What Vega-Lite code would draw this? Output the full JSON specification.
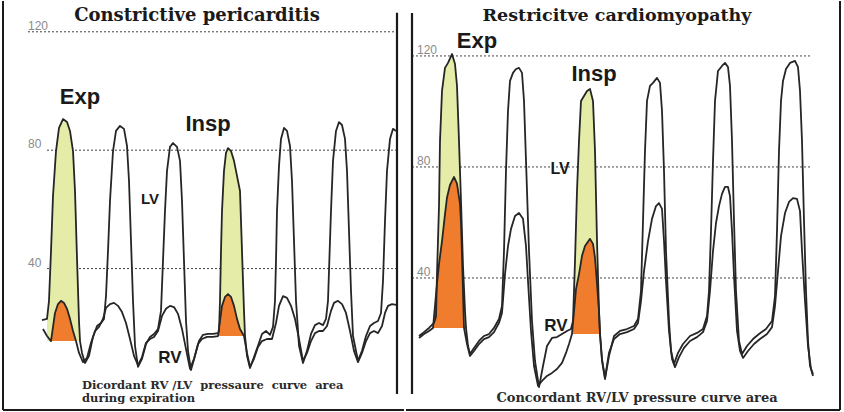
{
"$schema": "https://vega.github.io/schema/vega-lite/v6.json",
"background": "white",
"padding": 0,
"autosize": {"type": "pad"},
"spacing": 0,
"config": {"view": {"stroke": null}},
"datasets": {
"grid": [{"p": 120}, {"p": 80}, {"p": 40}],
"cp": [
{"s":"LV","t":42,"p":22.6},{"s":"LV","t":47,"p":23.0,"sh":"E"},{"s":"LV","t":49,"p":29.1,"sh":"E"},{"s":"LV","t":51,"p":45.9,"sh":"E"},{"s":"LV","t":53,"p":64.5,"sh":"E"},{"s":"LV","t":56,"p":79.7,"sh":"E"},{"s":"LV","t":59,"p":87.5,"sh":"E"},{"s":"LV","t":63,"p":90.5,"sh":"E"},{"s":"LV","t":67,"p":89.5,"sh":"E"},{"s":"LV","t":70,"p":86.5,"sh":"E"},{"s":"LV","t":73,"p":79.7,"sh":"E"},{"s":"LV","t":75,"p":66.2,"sh":"E"},{"s":"LV","t":77,"p":43.6,"sh":"E"},{"s":"LV","t":79,"p":22.3,"sh":"E"},{"s":"LV","t":80,"p":15.5,"sh":"E"},
{"s":"LV","t":82,"p":11.5},{"s":"LV","t":85,"p":8.1},{"s":"LV","t":89,"p":10.5},{"s":"LV","t":93,"p":16.9},{"s":"LV","t":97,"p":20.6},{"s":"LV","t":101,"p":21.6},{"s":"LV","t":104,"p":23.0},{"s":"LV","t":106,"p":30.7},{"s":"LV","t":108,"p":45.9},{"s":"LV","t":110,"p":62.8},{"s":"LV","t":113,"p":79.7},{"s":"LV","t":116,"p":86.5},{"s":"LV","t":120,"p":88.2},{"s":"LV","t":124,"p":87.2},{"s":"LV","t":127,"p":81.4},{"s":"LV","t":129,"p":69.6},{"s":"LV","t":131,"p":49.3},{"s":"LV","t":133,"p":29.1},{"s":"LV","t":135,"p":13.9},{"s":"LV","t":138,"p":6.8},
{"s":"LV","t":142,"p":9.5},{"s":"LV","t":146,"p":14.5},{"s":"LV","t":150,"p":16.9},{"s":"LV","t":154,"p":17.9},{"s":"LV","t":158,"p":19.6},{"s":"LV","t":161,"p":25.7},{"s":"LV","t":163,"p":42.6},{"s":"LV","t":165,"p":59.5},{"s":"LV","t":167,"p":73.0},{"s":"LV","t":170,"p":81.1},{"s":"LV","t":173,"p":82.4},{"s":"LV","t":177,"p":81.1},{"s":"LV","t":180,"p":76.4},{"s":"LV","t":182,"p":62.8},{"s":"LV","t":184,"p":42.6},{"s":"LV","t":186,"p":22.3},{"s":"LV","t":188,"p":12.2},{"s":"LV","t":191,"p":5.7},
{"s":"LV","t":195,"p":10.5},{"s":"LV","t":199,"p":15.5},{"s":"LV","t":203,"p":17.6},{"s":"LV","t":208,"p":17.9},{"s":"LV","t":213,"p":17.9},{"s":"LV","t":218,"p":18.2},{"s":"LV","t":219,"p":18.9,"sh":"I"},{"s":"LV","t":220,"p":29.1,"sh":"I"},{"s":"LV","t":221,"p":45.9,"sh":"I"},{"s":"LV","t":222,"p":59.5,"sh":"I"},{"s":"LV","t":224,"p":73.0,"sh":"I"},{"s":"LV","t":226,"p":79.1,"sh":"I"},{"s":"LV","t":228,"p":80.7,"sh":"I"},{"s":"LV","t":231,"p":79.7,"sh":"I"},{"s":"LV","t":234,"p":76.4,"sh":"I"},{"s":"LV","t":237,"p":71.3,"sh":"I"},{"s":"LV","t":240,"p":66.2,"sh":"I"},{"s":"LV","t":242,"p":45.9,"sh":"I"},{"s":"LV","t":244,"p":25.7,"sh":"I"},{"s":"LV","t":245,"p":17.2,"sh":"I"},
{"s":"LV","t":247,"p":10.5},{"s":"LV","t":250,"p":6.4},{"s":"LV","t":254,"p":10.1},{"s":"LV","t":258,"p":13.9},{"s":"LV","t":262,"p":17.9},{"s":"LV","t":266,"p":18.9},{"s":"LV","t":270,"p":17.6},{"s":"LV","t":273,"p":20.3},{"s":"LV","t":275,"p":29.1},{"s":"LV","t":276,"p":42.6},{"s":"LV","t":277,"p":59.5},{"s":"LV","t":279,"p":74.7},{"s":"LV","t":281,"p":83.8},{"s":"LV","t":284,"p":87.5},{"s":"LV","t":287,"p":86.5},{"s":"LV","t":290,"p":81.4},{"s":"LV","t":292,"p":69.6},{"s":"LV","t":294,"p":49.3},{"s":"LV","t":296,"p":29.1},{"s":"LV","t":299,"p":13.9},{"s":"LV","t":303,"p":8.1},
{"s":"LV","t":307,"p":12.2},{"s":"LV","t":311,"p":17.9},{"s":"LV","t":315,"p":20.9},{"s":"LV","t":319,"p":21.6},{"s":"LV","t":323,"p":20.9},{"s":"LV","t":326,"p":23.0},{"s":"LV","t":328,"p":29.1},{"s":"LV","t":329,"p":39.2},{"s":"LV","t":331,"p":59.5},{"s":"LV","t":333,"p":76.4},{"s":"LV","t":336,"p":86.5},{"s":"LV","t":339,"p":89.5},{"s":"LV","t":342,"p":88.5},{"s":"LV","t":345,"p":83.8},{"s":"LV","t":347,"p":73.0},{"s":"LV","t":349,"p":52.7},{"s":"LV","t":351,"p":32.4},{"s":"LV","t":353,"p":17.2},{"s":"LV","t":358,"p":8.8},
{"s":"LV","t":362,"p":12.2},{"s":"LV","t":366,"p":17.2},{"s":"LV","t":370,"p":20.6},{"s":"LV","t":374,"p":21.6},{"s":"LV","t":378,"p":22.3},{"s":"LV","t":381,"p":25.0},{"s":"LV","t":383,"p":35.8},{"s":"LV","t":385,"p":56.1},{"s":"LV","t":387,"p":73.0},{"s":"LV","t":390,"p":83.8},{"s":"LV","t":393,"p":87.2},{"s":"LV","t":396,"p":86.5},
{"s":"RV","t":43,"p":19.6},{"s":"RV","t":47,"p":17.2},{"s":"RV","t":51,"p":15.5,"sh":"E"},{"s":"RV","t":53,"p":20.3,"sh":"E"},{"s":"RV","t":55,"p":25.0,"sh":"E"},{"s":"RV","t":58,"p":28.0,"sh":"E"},{"s":"RV","t":61,"p":29.1,"sh":"E"},{"s":"RV","t":64,"p":28.4,"sh":"E"},{"s":"RV","t":67,"p":26.4,"sh":"E"},{"s":"RV","t":70,"p":23.0,"sh":"E"},{"s":"RV","t":73,"p":18.9,"sh":"E"},{"s":"RV","t":76,"p":15.5,"sh":"E"},
{"s":"RV","t":79,"p":11.5},{"s":"RV","t":83,"p":8.4},{"s":"RV","t":87,"p":9.8},{"s":"RV","t":91,"p":14.9},{"s":"RV","t":95,"p":18.9},{"s":"RV","t":99,"p":20.3},{"s":"RV","t":103,"p":23.0},{"s":"RV","t":106,"p":26.7},{"s":"RV","t":110,"p":28.0},{"s":"RV","t":114,"p":28.4},{"s":"RV","t":118,"p":27.4},{"s":"RV","t":122,"p":25.3},{"s":"RV","t":126,"p":21.6},{"s":"RV","t":130,"p":16.2},{"s":"RV","t":134,"p":10.5},{"s":"RV","t":138,"p":7.4},
{"s":"RV","t":142,"p":10.1},{"s":"RV","t":146,"p":14.9},{"s":"RV","t":150,"p":16.2},{"s":"RV","t":154,"p":16.9},{"s":"RV","t":158,"p":18.9},{"s":"RV","t":162,"p":24.0},{"s":"RV","t":166,"p":26.4},{"s":"RV","t":170,"p":27.4},{"s":"RV","t":174,"p":27.0},{"s":"RV","t":178,"p":24.7},{"s":"RV","t":182,"p":19.6},{"s":"RV","t":186,"p":12.8},{"s":"RV","t":190,"p":6.1},
{"s":"RV","t":194,"p":9.5},{"s":"RV","t":198,"p":14.5},{"s":"RV","t":202,"p":16.2},{"s":"RV","t":207,"p":16.9},{"s":"RV","t":213,"p":16.9},{"s":"RV","t":218,"p":17.2,"sh":"I"},{"s":"RV","t":220,"p":22.3,"sh":"I"},{"s":"RV","t":222,"p":27.4,"sh":"I"},{"s":"RV","t":225,"p":30.4,"sh":"I"},{"s":"RV","t":228,"p":31.4,"sh":"I"},{"s":"RV","t":231,"p":30.4,"sh":"I"},{"s":"RV","t":234,"p":27.4,"sh":"I"},{"s":"RV","t":237,"p":23.0,"sh":"I"},{"s":"RV","t":240,"p":19.6,"sh":"I"},{"s":"RV","t":244,"p":17.2,"sh":"I"},
{"s":"RV","t":247,"p":11.5},{"s":"RV","t":250,"p":6.8},{"s":"RV","t":254,"p":9.5},{"s":"RV","t":258,"p":13.5},{"s":"RV","t":262,"p":15.5},{"s":"RV","t":267,"p":16.2},{"s":"RV","t":272,"p":16.2},{"s":"RV","t":276,"p":21.6},{"s":"RV","t":279,"p":27.4},{"s":"RV","t":283,"p":30.7},{"s":"RV","t":287,"p":30.1},{"s":"RV","t":291,"p":27.4},{"s":"RV","t":295,"p":23.0},{"s":"RV","t":299,"p":16.2},{"s":"RV","t":303,"p":8.8},
{"s":"RV","t":307,"p":11.5},{"s":"RV","t":311,"p":15.5},{"s":"RV","t":315,"p":18.2},{"s":"RV","t":319,"p":18.9},{"s":"RV","t":323,"p":18.9},{"s":"RV","t":327,"p":20.6},{"s":"RV","t":331,"p":25.7},{"s":"RV","t":334,"p":28.4},{"s":"RV","t":338,"p":29.1},{"s":"RV","t":342,"p":28.0},{"s":"RV","t":346,"p":25.0},{"s":"RV","t":350,"p":18.9},{"s":"RV","t":354,"p":12.2},{"s":"RV","t":358,"p":8.4},
{"s":"RV","t":362,"p":11.5},{"s":"RV","t":366,"p":15.5},{"s":"RV","t":370,"p":18.2},{"s":"RV","t":374,"p":18.9},{"s":"RV","t":378,"p":18.2},{"s":"RV","t":382,"p":20.6},{"s":"RV","t":385,"p":25.0},{"s":"RV","t":388,"p":27.4},{"s":"RV","t":392,"p":28.0},{"s":"RV","t":396,"p":27.7}
],
"rc": [
{"s":"LV","t":13,"p":19.1},{"s":"LV","t":18,"p":20.5},{"s":"LV","t":23,"p":22.0},{"s":"LV","t":28,"p":23.8,"sh":"E"},{"s":"LV","t":30,"p":26.0,"sh":"E"},{"s":"LV","t":31,"p":41.4,"sh":"E"},{"s":"LV","t":33,"p":65.9,"sh":"E"},{"s":"LV","t":34,"p":89.4,"sh":"E"},{"s":"LV","t":36,"p":107.4,"sh":"E"},{"s":"LV","t":39,"p":115.7,"sh":"E"},{"s":"LV","t":42,"p":117.5,"sh":"E"},{"s":"LV","t":46,"p":120.7,"sh":"E"},{"s":"LV","t":49,"p":117.1,"sh":"E"},{"s":"LV","t":51,"p":109.2,"sh":"E"},{"s":"LV","t":53,"p":89.4,"sh":"E"},{"s":"LV","t":55,"p":67.7,"sh":"E"},{"s":"LV","t":57,"p":44.3,"sh":"E"},{"s":"LV","t":59,"p":28.1,"sh":"E"},{"s":"LV","t":60,"p":22.0,"sh":"E"},
{"s":"LV","t":62,"p":15.5},{"s":"LV","t":64,"p":12.6},{"s":"LV","t":68,"p":14.8},{"s":"LV","t":73,"p":17.3},{"s":"LV","t":78,"p":19.1},{"s":"LV","t":83,"p":19.8},{"s":"LV","t":88,"p":22.0},{"s":"LV","t":93,"p":25.2},{"s":"LV","t":96,"p":29.9},{"s":"LV","t":98,"p":49.7},{"s":"LV","t":100,"p":78.6},{"s":"LV","t":102,"p":100.2},{"s":"LV","t":104,"p":111.0},{"s":"LV","t":107,"p":113.9},{"s":"LV","t":110,"p":115.3},{"s":"LV","t":113,"p":115.7},{"s":"LV","t":116,"p":113.9},{"s":"LV","t":118,"p":103.8},{"s":"LV","t":120,"p":82.2},{"s":"LV","t":123,"p":49.7},{"s":"LV","t":126,"p":24.5},{"s":"LV","t":129,"p":10.1},{"s":"LV","t":133,"p":0.7},
{"s":"LV","t":137,"p":8.3},{"s":"LV","t":141,"p":15.5},{"s":"LV","t":146,"p":18.4},{"s":"LV","t":151,"p":18.7},{"s":"LV","t":156,"p":19.8},{"s":"LV","t":161,"p":20.9},{"s":"LV","t":165,"p":21.6,"sh":"I"},{"s":"LV","t":167,"p":24.5,"sh":"I"},{"s":"LV","t":169,"p":46.1,"sh":"I"},{"s":"LV","t":171,"p":71.4,"sh":"I"},{"s":"LV","t":173,"p":89.4,"sh":"I"},{"s":"LV","t":175,"p":103.8,"sh":"I"},{"s":"LV","t":178,"p":105.6,"sh":"I"},{"s":"LV","t":181,"p":107.4,"sh":"I"},{"s":"LV","t":184,"p":108.1,"sh":"I"},{"s":"LV","t":187,"p":103.8,"sh":"I"},{"s":"LV","t":189,"p":85.8,"sh":"I"},{"s":"LV","t":191,"p":53.3,"sh":"I"},{"s":"LV","t":193,"p":28.1,"sh":"I"},{"s":"LV","t":194,"p":19.8,"sh":"I"},
{"s":"LV","t":196,"p":10.1},{"s":"LV","t":199,"p":3.6},{"s":"LV","t":203,"p":11.9},{"s":"LV","t":208,"p":19.1},{"s":"LV","t":214,"p":20.9},{"s":"LV","t":221,"p":21.6},{"s":"LV","t":228,"p":22.7},{"s":"LV","t":232,"p":25.2},{"s":"LV","t":235,"p":35.3},{"s":"LV","t":237,"p":60.5},{"s":"LV","t":239,"p":85.8},{"s":"LV","t":241,"p":103.8},{"s":"LV","t":244,"p":109.2},{"s":"LV","t":247,"p":110.3},{"s":"LV","t":251,"p":112.1},{"s":"LV","t":254,"p":110.3},{"s":"LV","t":256,"p":100.2},{"s":"LV","t":258,"p":78.6},{"s":"LV","t":260,"p":49.7},{"s":"LV","t":263,"p":24.5},{"s":"LV","t":265,"p":13.7},{"s":"LV","t":268,"p":9.0},
{"s":"LV","t":272,"p":13.0},{"s":"LV","t":277,"p":16.2},{"s":"LV","t":284,"p":19.1},{"s":"LV","t":291,"p":20.2},{"s":"LV","t":297,"p":21.6},{"s":"LV","t":301,"p":26.3},{"s":"LV","t":303,"p":35.3},{"s":"LV","t":305,"p":56.9},{"s":"LV","t":307,"p":82.2},{"s":"LV","t":309,"p":103.8},{"s":"LV","t":312,"p":114.6},{"s":"LV","t":316,"p":116.4},{"s":"LV","t":319,"p":117.5},{"s":"LV","t":322,"p":116.0},{"s":"LV","t":324,"p":109.2},{"s":"LV","t":326,"p":89.4},{"s":"LV","t":328,"p":60.5},{"s":"LV","t":330,"p":35.3},{"s":"LV","t":333,"p":17.3},{"s":"LV","t":336,"p":12.6},
{"s":"LV","t":341,"p":15.5},{"s":"LV","t":347,"p":18.0},{"s":"LV","t":353,"p":19.8},{"s":"LV","t":360,"p":21.6},{"s":"LV","t":366,"p":24.5},{"s":"LV","t":369,"p":33.5},{"s":"LV","t":371,"p":56.9},{"s":"LV","t":373,"p":85.8},{"s":"LV","t":375,"p":103.8},{"s":"LV","t":377,"p":111.0},{"s":"LV","t":380,"p":115.3},{"s":"LV","t":384,"p":117.5},{"s":"LV","t":389,"p":118.2},{"s":"LV","t":392,"p":116.0},{"s":"LV","t":394,"p":107.4},{"s":"LV","t":396,"p":89.4},{"s":"LV","t":398,"p":60.5},{"s":"LV","t":400,"p":35.3},{"s":"LV","t":402,"p":17.3},{"s":"LV","t":404,"p":8.3},{"s":"LV","t":407,"p":5.4},
{"s":"RV","t":13,"p":18.4},{"s":"RV","t":18,"p":19.8},{"s":"RV","t":23,"p":20.9},{"s":"RV","t":27,"p":22.0,"sh":"E"},{"s":"RV","t":29,"p":30.0,"sh":"E"},{"s":"RV","t":31,"p":38.0,"sh":"E"},{"s":"RV","t":33,"p":45.0,"sh":"E"},{"s":"RV","t":36,"p":53.3,"sh":"E"},{"s":"RV","t":39,"p":63.0,"sh":"E"},{"s":"RV","t":41,"p":69.0,"sh":"E"},{"s":"RV","t":44,"p":73.5,"sh":"E"},{"s":"RV","t":48,"p":76.4,"sh":"E"},{"s":"RV","t":51,"p":74.0,"sh":"E"},{"s":"RV","t":54,"p":66.7,"sh":"E"},{"s":"RV","t":55,"p":60.0,"sh":"E"},{"s":"RV","t":56,"p":48.0,"sh":"E"},{"s":"RV","t":57,"p":35.0,"sh":"E"},{"s":"RV","t":58,"p":22.0,"sh":"E"},
{"s":"RV","t":61,"p":16.2},{"s":"RV","t":64,"p":11.9},{"s":"RV","t":68,"p":13.7},{"s":"RV","t":73,"p":16.2},{"s":"RV","t":78,"p":18.0},{"s":"RV","t":83,"p":18.7},{"s":"RV","t":88,"p":20.5},{"s":"RV","t":93,"p":23.8},{"s":"RV","t":96,"p":27.4},{"s":"RV","t":99,"p":41.4},{"s":"RV","t":102,"p":51.5},{"s":"RV","t":105,"p":57.7},{"s":"RV","t":109,"p":62.3},{"s":"RV","t":113,"p":63.4},{"s":"RV","t":117,"p":61.3},{"s":"RV","t":120,"p":51.5},{"s":"RV","t":122,"p":38.9},{"s":"RV","t":125,"p":20.9},{"s":"RV","t":128,"p":8.3},{"s":"RV","t":132,"p":1.1},
{"s":"RV","t":136,"p":2.9},{"s":"RV","t":141,"p":4.7},{"s":"RV","t":146,"p":5.8},{"s":"RV","t":151,"p":7.2},{"s":"RV","t":156,"p":9.4},{"s":"RV","t":160,"p":13.0},{"s":"RV","t":163,"p":16.2},{"s":"RV","t":166,"p":19.8,"sh":"I"},{"s":"RV","t":168,"p":28.0,"sh":"I"},{"s":"RV","t":170,"p":36.0,"sh":"I"},{"s":"RV","t":173,"p":41.4,"sh":"I"},{"s":"RV","t":176,"p":48.0,"sh":"I"},{"s":"RV","t":179,"p":51.5,"sh":"I"},{"s":"RV","t":184,"p":54.1,"sh":"I"},{"s":"RV","t":187,"p":52.3,"sh":"I"},{"s":"RV","t":189,"p":47.2,"sh":"I"},{"s":"RV","t":191,"p":38.0,"sh":"I"},{"s":"RV","t":193,"p":28.0,"sh":"I"},{"s":"RV","t":194,"p":19.8,"sh":"I"},
{"s":"RV","t":196,"p":10.8},{"s":"RV","t":199,"p":4.0},{"s":"RV","t":203,"p":13.0},{"s":"RV","t":208,"p":18.0},{"s":"RV","t":214,"p":19.8},{"s":"RV","t":221,"p":20.5},{"s":"RV","t":228,"p":21.6},{"s":"RV","t":232,"p":23.8},{"s":"RV","t":235,"p":31.7},{"s":"RV","t":238,"p":42.5},{"s":"RV","t":242,"p":53.3},{"s":"RV","t":246,"p":61.3},{"s":"RV","t":250,"p":65.9},{"s":"RV","t":253,"p":67.0},{"s":"RV","t":256,"p":64.9},{"s":"RV","t":258,"p":53.3},{"s":"RV","t":260,"p":38.9},{"s":"RV","t":263,"p":20.9},{"s":"RV","t":266,"p":10.8},{"s":"RV","t":269,"p":7.9},
{"s":"RV","t":273,"p":11.5},{"s":"RV","t":278,"p":14.8},{"s":"RV","t":284,"p":17.3},{"s":"RV","t":291,"p":18.7},{"s":"RV","t":297,"p":20.5},{"s":"RV","t":301,"p":24.5},{"s":"RV","t":304,"p":35.3},{"s":"RV","t":307,"p":49.7},{"s":"RV","t":310,"p":59.8},{"s":"RV","t":313,"p":65.9},{"s":"RV","t":316,"p":70.3},{"s":"RV","t":319,"p":72.8},{"s":"RV","t":322,"p":72.8},{"s":"RV","t":324,"p":69.5},{"s":"RV","t":326,"p":56.9},{"s":"RV","t":328,"p":40.7},{"s":"RV","t":331,"p":20.9},{"s":"RV","t":334,"p":13.7},{"s":"RV","t":337,"p":11.2},
{"s":"RV","t":342,"p":13.7},{"s":"RV","t":348,"p":16.2},{"s":"RV","t":354,"p":18.0},{"s":"RV","t":361,"p":19.8},{"s":"RV","t":366,"p":22.3},{"s":"RV","t":369,"p":29.9},{"s":"RV","t":372,"p":42.5},{"s":"RV","t":375,"p":55.1},{"s":"RV","t":379,"p":63.4},{"s":"RV","t":383,"p":67.4},{"s":"RV","t":387,"p":68.8},{"s":"RV","t":391,"p":68.5},{"s":"RV","t":394,"p":64.1},{"s":"RV","t":396,"p":49.7},{"s":"RV","t":399,"p":31.7},{"s":"RV","t":402,"p":15.5},{"s":"RV","t":405,"p":7.2},{"s":"RV","t":407,"p":4.7}
]
},
"hconcat": [
{
"width": 404, "height": 412,
"layer": [
{"data": {"name": "grid"}, "transform": [{"filter": "datum.p == 120"}], "mark": {"type": "rule", "color": "#444", "strokeDash": [2, 2], "strokeWidth": 1},
 "encoding": {"x": {"datum": 28, "type": "quantitative", "scale": {"domain": [0, 404], "nice": false, "zero": false}, "axis": null}, "x2": {"datum": 397}, "y": {"field": "p", "type": "quantitative", "scale": {"domain": [-8.8, 130.4], "nice": false, "zero": false}, "axis": null}}},
{"data": {"name": "grid"}, "transform": [{"filter": "datum.p != 120"}], "mark": {"type": "rule", "color": "#444", "strokeDash": [2, 2], "strokeWidth": 1},
 "encoding": {"x": {"datum": 47, "type": "quantitative", "scale": {"domain": [0, 404], "nice": false, "zero": false}, "axis": null}, "x2": {"datum": 397}, "y": {"field": "p", "type": "quantitative", "scale": {"domain": [-8.8, 130.4], "nice": false, "zero": false}, "axis": null}}},
{"data": {"name": "grid"}, "mark": {"type": "text", "align": "left", "baseline": "alphabetic", "dy": -2, "font": "Liberation Sans", "fontSize": 12, "color": "#8a8a8a"},
 "encoding": {"x": {"datum": 28, "type": "quantitative", "scale": {"domain": [0, 404], "nice": false, "zero": false}, "axis": null}, "y": {"field": "p", "type": "quantitative", "scale": {"domain": [-8.8, 130.4], "nice": false, "zero": false}, "axis": null}, "text": {"field": "p"}}},
{"data": {"name": "cp"}, "transform": [{"filter": "datum.s == 'LV' && datum.sh == 'E'"}], "mark": {"type": "area", "color": "#e4eca8", "opacity": 1},
 "encoding": {"x": {"field": "t", "type": "quantitative", "scale": {"domain": [0, 404], "nice": false, "zero": false}, "axis": null}, "y": {"field": "p", "type": "quantitative", "scale": {"domain": [-8.8, 130.4], "nice": false, "zero": false}, "axis": null}, "y2": {"datum": 15.5}}},
{"data": {"name": "cp"}, "transform": [{"filter": "datum.s == 'LV' && datum.sh == 'I'"}], "mark": {"type": "area", "color": "#e4eca8", "opacity": 1},
 "encoding": {"x": {"field": "t", "type": "quantitative", "scale": {"domain": [0, 404], "nice": false, "zero": false}, "axis": null}, "y": {"field": "p", "type": "quantitative", "scale": {"domain": [-8.8, 130.4], "nice": false, "zero": false}, "axis": null}, "y2": {"datum": 17.2}}},
{"data": {"name": "cp"}, "transform": [{"filter": "datum.s == 'RV' && datum.sh == 'E'"}], "mark": {"type": "area", "color": "#f07d2e", "opacity": 1},
 "encoding": {"x": {"field": "t", "type": "quantitative", "scale": {"domain": [0, 404], "nice": false, "zero": false}, "axis": null}, "y": {"field": "p", "type": "quantitative", "scale": {"domain": [-8.8, 130.4], "nice": false, "zero": false}, "axis": null}, "y2": {"datum": 15.5}}},
{"data": {"name": "cp"}, "transform": [{"filter": "datum.s == 'RV' && datum.sh == 'I'"}], "mark": {"type": "area", "color": "#f07d2e", "opacity": 1},
 "encoding": {"x": {"field": "t", "type": "quantitative", "scale": {"domain": [0, 404], "nice": false, "zero": false}, "axis": null}, "y": {"field": "p", "type": "quantitative", "scale": {"domain": [-8.8, 130.4], "nice": false, "zero": false}, "axis": null}, "y2": {"datum": 17.2}}},
{"data": {"name": "cp"}, "mark": {"type": "line", "color": "#262626", "strokeWidth": 1.8, "strokeJoin": "round"},
 "encoding": {"x": {"field": "t", "type": "quantitative", "scale": {"domain": [0, 404], "nice": false, "zero": false}, "axis": null}, "y": {"field": "p", "type": "quantitative", "scale": {"domain": [-8.8, 130.4], "nice": false, "zero": false}, "axis": null}, "detail": {"field": "s"}}},
{"data": {"values": [{}]}, "mark": {"type": "rule", "color": "#1a1a1a", "strokeWidth": 2.2},
 "encoding": {"x": {"datum": 397, "type": "quantitative", "scale": {"domain": [0, 404], "nice": false, "zero": false}, "axis": null}, "y": {"datum": -2.4, "type": "quantitative", "scale": {"domain": [-8.8, 130.4], "nice": false, "zero": false}, "axis": null}, "y2": {"datum": 126.4}}},
{"data": {"values": [{}]}, "mark": {"type": "rule", "color": "#1a1a1a", "strokeWidth": 2},
 "encoding": {"x": {"datum": 3, "type": "quantitative", "scale": {"domain": [0, 404], "nice": false, "zero": false}, "axis": null}, "y": {"datum": -7.8, "type": "quantitative", "scale": {"domain": [-8.8, 130.4], "nice": false, "zero": false}, "axis": null}, "y2": {"datum": 130.4}}},
{"data": {"values": [{}]}, "mark": {"type": "rule", "color": "#1a1a1a", "strokeWidth": 2},
 "encoding": {"x": {"datum": 3, "type": "quantitative", "scale": {"domain": [0, 404], "nice": false, "zero": false}, "axis": null}, "x2": {"datum": 404}, "y": {"datum": -7.8, "type": "quantitative", "scale": {"domain": [-8.8, 130.4], "nice": false, "zero": false}, "axis": null}}},
{"data": {"values": [{}]}, "mark": {"type": "text", "text": "Constrictive pericarditis", "font": "DejaVu Serif", "fontWeight": "bold", "fontSize": 18, "align": "center", "baseline": "alphabetic", "color": "#1a1a1a"},
 "encoding": {"x": {"datum": 197, "type": "quantitative", "scale": {"domain": [0, 404], "nice": false, "zero": false}, "axis": null}, "y": {"datum": 123.6, "type": "quantitative", "scale": {"domain": [-8.8, 130.4], "nice": false, "zero": false}, "axis": null}}},
{"data": {"values": [{}]}, "mark": {"type": "text", "text": "Exp", "font": "Liberation Sans", "fontWeight": "bold", "fontSize": 22, "align": "center", "baseline": "alphabetic", "color": "#1a1a1a"},
 "encoding": {"x": {"datum": 80, "type": "quantitative", "scale": {"domain": [0, 404], "nice": false, "zero": false}, "axis": null}, "y": {"datum": 95.6, "type": "quantitative", "scale": {"domain": [-8.8, 130.4], "nice": false, "zero": false}, "axis": null}}},
{"data": {"values": [{}]}, "mark": {"type": "text", "text": "Insp", "font": "Liberation Sans", "fontWeight": "bold", "fontSize": 22, "align": "center", "baseline": "alphabetic", "color": "#1a1a1a"},
 "encoding": {"x": {"datum": 208, "type": "quantitative", "scale": {"domain": [0, 404], "nice": false, "zero": false}, "axis": null}, "y": {"datum": 86.5, "type": "quantitative", "scale": {"domain": [-8.8, 130.4], "nice": false, "zero": false}, "axis": null}}},
{"data": {"values": [{}]}, "mark": {"type": "text", "text": "LV", "font": "Liberation Sans", "fontWeight": "bold", "fontSize": 15, "align": "center", "baseline": "alphabetic", "color": "#1a1a1a"},
 "encoding": {"x": {"datum": 150, "type": "quantitative", "scale": {"domain": [0, 404], "nice": false, "zero": false}, "axis": null}, "y": {"datum": 61.8, "type": "quantitative", "scale": {"domain": [-8.8, 130.4], "nice": false, "zero": false}, "axis": null}}},
{"data": {"values": [{}]}, "mark": {"type": "text", "text": "RV", "font": "Liberation Sans", "fontWeight": "bold", "fontSize": 17, "align": "center", "baseline": "alphabetic", "color": "#1a1a1a"},
 "encoding": {"x": {"datum": 170, "type": "quantitative", "scale": {"domain": [0, 404], "nice": false, "zero": false}, "axis": null}, "y": {"datum": 8.1, "type": "quantitative", "scale": {"domain": [-8.8, 130.4], "nice": false, "zero": false}, "axis": null}}},
{"data": {"values": [{}]}, "mark": {"type": "text", "text": "Dicordant RV /LV \u00a0pressaure \u00a0curve \u00a0area", "font": "DejaVu Serif", "fontWeight": "bold", "fontSize": 11.5, "align": "left", "baseline": "alphabetic", "color": "#2a2a2a"},
 "encoding": {"x": {"datum": 82, "type": "quantitative", "scale": {"domain": [0, 404], "nice": false, "zero": false}, "axis": null}, "y": {"datum": -0.6, "type": "quantitative", "scale": {"domain": [-8.8, 130.4], "nice": false, "zero": false}, "axis": null}}},
{"data": {"values": [{}]}, "mark": {"type": "text", "text": "during expiration", "font": "DejaVu Serif", "fontWeight": "bold", "fontSize": 11.5, "align": "left", "baseline": "alphabetic", "color": "#2a2a2a"},
 "encoding": {"x": {"datum": 82, "type": "quantitative", "scale": {"domain": [0, 404], "nice": false, "zero": false}, "axis": null}, "y": {"datum": -5.2, "type": "quantitative", "scale": {"domain": [-8.8, 130.4], "nice": false, "zero": false}, "axis": null}}}
]
},
{
"width": 440, "height": 412,
"layer": [
{"data": {"name": "grid"}, "mark": {"type": "rule", "color": "#444", "strokeDash": [2, 2], "strokeWidth": 1},
 "encoding": {"x": {"datum": 6, "type": "quantitative", "scale": {"domain": [0, 440], "nice": false, "zero": false}, "axis": null}, "x2": {"datum": 406}, "y": {"field": "p", "type": "quantitative", "scale": {"domain": [-8.65, 139.8], "nice": false, "zero": false}, "axis": null}}},
{"data": {"name": "grid"}, "mark": {"type": "text", "align": "left", "baseline": "alphabetic", "dy": -2, "font": "Liberation Sans", "fontSize": 12, "color": "#8a8a8a"},
 "encoding": {"x": {"datum": 11, "type": "quantitative", "scale": {"domain": [0, 440], "nice": false, "zero": false}, "axis": null}, "y": {"field": "p", "type": "quantitative", "scale": {"domain": [-8.65, 139.8], "nice": false, "zero": false}, "axis": null}, "text": {"field": "p"}}},
{"data": {"name": "rc"}, "transform": [{"filter": "datum.s == 'LV' && datum.sh == 'E'"}], "mark": {"type": "area", "color": "#e4eca8", "opacity": 1},
 "encoding": {"x": {"field": "t", "type": "quantitative", "scale": {"domain": [0, 440], "nice": false, "zero": false}, "axis": null}, "y": {"field": "p", "type": "quantitative", "scale": {"domain": [-8.65, 139.8], "nice": false, "zero": false}, "axis": null}, "y2": {"datum": 22.0}}},
{"data": {"name": "rc"}, "transform": [{"filter": "datum.s == 'LV' && datum.sh == 'I'"}], "mark": {"type": "area", "color": "#e4eca8", "opacity": 1},
 "encoding": {"x": {"field": "t", "type": "quantitative", "scale": {"domain": [0, 440], "nice": false, "zero": false}, "axis": null}, "y": {"field": "p", "type": "quantitative", "scale": {"domain": [-8.65, 139.8], "nice": false, "zero": false}, "axis": null}, "y2": {"datum": 19.8}}},
{"data": {"name": "rc"}, "transform": [{"filter": "datum.s == 'RV' && datum.sh == 'E'"}], "mark": {"type": "area", "color": "#f07d2e", "opacity": 1},
 "encoding": {"x": {"field": "t", "type": "quantitative", "scale": {"domain": [0, 440], "nice": false, "zero": false}, "axis": null}, "y": {"field": "p", "type": "quantitative", "scale": {"domain": [-8.65, 139.8], "nice": false, "zero": false}, "axis": null}, "y2": {"datum": 22.0}}},
{"data": {"name": "rc"}, "transform": [{"filter": "datum.s == 'RV' && datum.sh == 'I'"}], "mark": {"type": "area", "color": "#f07d2e", "opacity": 1},
 "encoding": {"x": {"field": "t", "type": "quantitative", "scale": {"domain": [0, 440], "nice": false, "zero": false}, "axis": null}, "y": {"field": "p", "type": "quantitative", "scale": {"domain": [-8.65, 139.8], "nice": false, "zero": false}, "axis": null}, "y2": {"datum": 19.8}}},
{"data": {"name": "rc"}, "mark": {"type": "line", "color": "#262626", "strokeWidth": 1.8, "strokeJoin": "round"},
 "encoding": {"x": {"field": "t", "type": "quantitative", "scale": {"domain": [0, 440], "nice": false, "zero": false}, "axis": null}, "y": {"field": "p", "type": "quantitative", "scale": {"domain": [-8.65, 139.8], "nice": false, "zero": false}, "axis": null}, "detail": {"field": "s"}}},
{"data": {"values": [{}]}, "mark": {"type": "rule", "color": "#1a1a1a", "strokeWidth": 2.2},
 "encoding": {"x": {"datum": 6, "type": "quantitative", "scale": {"domain": [0, 440], "nice": false, "zero": false}, "axis": null}, "y": {"datum": -1.8, "type": "quantitative", "scale": {"domain": [-8.65, 139.8], "nice": false, "zero": false}, "axis": null}, "y2": {"datum": 135.5}}},
{"data": {"values": [{}]}, "mark": {"type": "rule", "color": "#1a1a1a", "strokeWidth": 2},
 "encoding": {"x": {"datum": 434, "type": "quantitative", "scale": {"domain": [0, 440], "nice": false, "zero": false}, "axis": null}, "y": {"datum": -7.6, "type": "quantitative", "scale": {"domain": [-8.65, 139.8], "nice": false, "zero": false}, "axis": null}, "y2": {"datum": 139.8}}},
{"data": {"values": [{}]}, "mark": {"type": "rule", "color": "#1a1a1a", "strokeWidth": 2},
 "encoding": {"x": {"datum": 0, "type": "quantitative", "scale": {"domain": [0, 440], "nice": false, "zero": false}, "axis": null}, "x2": {"datum": 434}, "y": {"datum": -7.6, "type": "quantitative", "scale": {"domain": [-8.65, 139.8], "nice": false, "zero": false}, "axis": null}}},
{"data": {"values": [{}]}, "mark": {"type": "text", "text": "Restricitve cardiomyopathy", "font": "DejaVu Serif", "fontWeight": "bold", "fontSize": 17.5, "align": "center", "baseline": "alphabetic", "color": "#1a1a1a"},
 "encoding": {"x": {"datum": 211, "type": "quantitative", "scale": {"domain": [0, 440], "nice": false, "zero": false}, "axis": null}, "y": {"datum": 132.6, "type": "quantitative", "scale": {"domain": [-8.65, 139.8], "nice": false, "zero": false}, "axis": null}}},
{"data": {"values": [{}]}, "mark": {"type": "text", "text": "Exp", "font": "Liberation Sans", "fontWeight": "bold", "fontSize": 22, "align": "center", "baseline": "alphabetic", "color": "#1a1a1a"},
 "encoding": {"x": {"datum": 71, "type": "quantitative", "scale": {"domain": [0, 440], "nice": false, "zero": false}, "axis": null}, "y": {"datum": 122.9, "type": "quantitative", "scale": {"domain": [-8.65, 139.8], "nice": false, "zero": false}, "axis": null}}},
{"data": {"values": [{}]}, "mark": {"type": "text", "text": "Insp", "font": "Liberation Sans", "fontWeight": "bold", "fontSize": 22, "align": "center", "baseline": "alphabetic", "color": "#1a1a1a"},
 "encoding": {"x": {"datum": 188, "type": "quantitative", "scale": {"domain": [0, 440], "nice": false, "zero": false}, "axis": null}, "y": {"datum": 111.0, "type": "quantitative", "scale": {"domain": [-8.65, 139.8], "nice": false, "zero": false}, "axis": null}}},
{"data": {"values": [{}]}, "mark": {"type": "text", "text": "LV", "font": "Liberation Sans", "fontWeight": "bold", "fontSize": 16, "align": "center", "baseline": "alphabetic", "color": "#1a1a1a"},
 "encoding": {"x": {"datum": 154, "type": "quantitative", "scale": {"domain": [0, 440], "nice": false, "zero": false}, "axis": null}, "y": {"datum": 77.5, "type": "quantitative", "scale": {"domain": [-8.65, 139.8], "nice": false, "zero": false}, "axis": null}}},
{"data": {"values": [{}]}, "mark": {"type": "text", "text": "RV", "font": "Liberation Sans", "fontWeight": "bold", "fontSize": 17, "align": "center", "baseline": "alphabetic", "color": "#1a1a1a"},
 "encoding": {"x": {"datum": 150, "type": "quantitative", "scale": {"domain": [0, 440], "nice": false, "zero": false}, "axis": null}, "y": {"datum": 20.9, "type": "quantitative", "scale": {"domain": [-8.65, 139.8], "nice": false, "zero": false}, "axis": null}}},
{"data": {"values": [{}]}, "mark": {"type": "text", "text": "Concordant RV/LV pressure curve area", "font": "DejaVu Serif", "fontWeight": "bold", "fontSize": 13, "align": "center", "baseline": "alphabetic", "color": "#2a2a2a"},
 "encoding": {"x": {"datum": 231, "type": "quantitative", "scale": {"domain": [0, 440], "nice": false, "zero": false}, "axis": null}, "y": {"datum": -4.7, "type": "quantitative", "scale": {"domain": [-8.65, 139.8], "nice": false, "zero": false}, "axis": null}}}
]
}
]
}
